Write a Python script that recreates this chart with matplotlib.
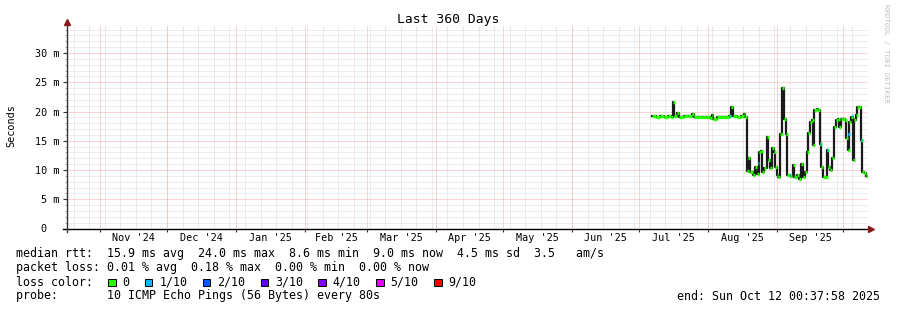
import numpy as np
import matplotlib
matplotlib.use("Agg")
import matplotlib.pyplot as plt
from matplotlib.lines import Line2D
from matplotlib.patches import Rectangle
from matplotlib.collections import LineCollection

W, H = 897, 310
MONO = "DejaVu Sans Mono"

start = np.datetime64("2024-10-17T00:37:58")
end = np.datetime64("2025-10-12T00:37:58")

# median rtt, days since start of graph / milliseconds
days = [262.9, 264.7, 266.5, 268.3, 270.1, 271.5, 272.2, 272.8, 274.2, 275.1,
        277.3, 279.1, 280.8, 281.8, 283.6, 285.4, 287.2, 289.0, 289.8, 290.3,
        292.1, 293.9, 295.7, 297.5, 298.4, 299.3, 301.1, 302.9, 304.3, 304.9,
        305.6, 306.1, 307.0, 308.3, 309.2, 310.0, 311.0, 311.9, 312.5, 313.4,
        314.5, 315.2, 316.0, 317.0, 317.8, 318.2, 319.0, 319.7, 320.3, 320.9,
        321.5, 322.1, 323.0, 323.7, 324.9, 326.2, 326.9, 328.1, 329.0, 329.9,
        330.7, 331.7, 332.4, 333.2, 333.9, 334.7, 335.4, 335.9, 336.9, 337.7,
        338.4, 338.9, 339.9, 341.0, 341.6, 342.2, 342.9, 344.0, 344.7, 345.5,
        346.4, 347.0, 347.9, 348.9, 349.7, 350.2, 350.9, 351.6, 352.4, 353.1,
        353.7, 354.6, 355.2, 356.1, 356.7, 357.2, 358.3, 358.9]
rtt_ms = [19.2, 19.1, 19.2, 19.1, 19.2, 19.1, 21.7, 19.2, 19.8, 19.1,
          19.2, 19.2, 19.6, 19.1, 19.0, 19.1, 19.1, 18.9, 19.4, 18.8,
          19.0, 19.1, 19.1, 19.2, 20.7, 19.2, 19.1, 19.2, 19.5, 19.1,
          9.8, 12.0, 9.6, 9.2, 10.5, 9.4, 13.1, 13.3, 9.6, 10.3,
          15.6, 11.7, 10.3, 13.7, 13.1, 10.5, 9.1, 8.8, 16.1, 16.2,
          24.0, 18.8, 16.1, 9.1, 9.0, 10.8, 8.8, 9.1, 8.5, 11.0,
          8.8, 9.6, 13.1, 16.4, 18.2, 18.5, 14.2, 20.2, 20.5, 20.2,
          14.5, 10.5, 8.8, 8.8, 13.4, 10.5, 10.0, 12.0, 17.4, 18.5,
          18.8, 17.4, 18.8, 18.8, 18.5, 15.4, 13.4, 18.2, 19.1, 11.7,
          18.5, 19.4, 20.8, 20.8, 15.1, 9.6, 9.5, 9.0]

# samples with 1/10 packet loss
loss_days = [298.0, 310.6, 324.5, 338.4, 341.4, 351.1, 352.6, 356.7]
loss_ms = [19.3, 11.2, 9.2, 14.5, 13.4, 16.2, 19.4, 15.1]

month_labels = ["Nov '24", "Dec '24", "Jan '25", "Feb '25", "Mar '25", "Apr '25",
                "May '25", "Jun '25", "Jul '25", "Aug '25", "Sep '25"]
ytick_vals = [0, 5, 10, 15, 20, 25, 30]
ytick_labels = ["0  ", "5 m", "10 m", "15 m", "20 m", "25 m", "30 m"]

loss_names = ["0", "1/10", "2/10", "3/10", "4/10", "5/10", "9/10"]
loss_colors = ["#26ff00", "#00b8ff", "#0059ff", "#5e00ff", "#7e00ff", "#dd00ff", "#ff0000"]

legend_lines = [
    "median rtt:  15.9 ms avg  24.0 ms max  8.6 ms min  9.0 ms now  4.5 ms sd  3.5   am/s",
    "packet loss: 0.01 % avg  0.18 % max  0.00 % min  0.00 % now",
    "loss color:",
    "probe:       10 ICMP Echo Pings (56 Bytes) every 80s",
]


def to_days(t):
    return (t.astype("datetime64[s]") - start) / np.timedelta64(1, "D")


def fx(px):
    return px / W


def fy(py):
    return 1 - py / H


fig = plt.figure(figsize=(W / 100, H / 100), dpi=100, facecolor="white")
x0, x1, y0, y1 = 67, 868, 228.5, 26
ax = fig.add_axes([fx(x0), fy(y0), (x1 - x0) / W, (y0 - y1) / H])
ax.set_xlim(0, 360)
ax.set_ylim(0, (y0 - y1) / 5.85)
for s in ax.spines.values():
    s.set_visible(False)

# grid
grid_c = "#d8d8d8"
mgrid_c = "#f2aaaa"
dot = (0, (1, 1))
gkw = dict(lw=0.72, ls=dot)
for v in np.arange(1, 35):
    if v % 5:
        ax.axhline(v, color=grid_c, zorder=0, **gkw)
for v in ytick_vals[1:]:
    ax.axhline(v, color=mgrid_c, zorder=1, **gkw)

weeks = np.arange(np.datetime64("2024-10-20"), end, np.timedelta64(7, "D"))
for d in to_days(weeks):
    ax.axvline(d, color=grid_c, zorder=0, **gkw)
months = np.arange(np.datetime64("2024-11"), np.datetime64("2025-11"), dtype="datetime64[M]")
mdays = to_days(months)
for d in mdays:
    ax.axvline(d, color=mgrid_c, zorder=1, **gkw)

# median line
ax.step(days, rtt_ms, where="post", color="#1a1a1a", lw=1.6, zorder=3)
segs = []
for i in range(len(days)):
    if i + 1 < len(days) and abs(rtt_ms[i + 1] - rtt_ms[i]) < 1.0:
        e = days[i + 1]
    else:
        e = days[i] + 0.9
    segs.append([(days[i], rtt_ms[i]), (e, rtt_ms[i])])
ax.add_collection(LineCollection(segs, colors=loss_colors[0], lw=2.4, capstyle="butt", zorder=4))
lsegs = [[(d, v), (d + 0.6, v)] for d, v in zip(loss_days, loss_ms)]
ax.add_collection(LineCollection(lsegs, colors=loss_colors[1], lw=2.4, capstyle="butt", zorder=5))

# ticks
ax.set_yticks(ytick_vals, ytick_labels, family=MONO, fontsize=7.3)
ax.set_yticks(np.arange(1, 35), minor=True)
ax.tick_params(axis="y", which="major", length=3, width=0.8, pad=2.5, color="#333333")
ax.tick_params(axis="y", which="minor", length=1.5, width=0.6, color="#999999")
centers = (mdays[:-1] + mdays[1:]) / 2
ax.set_xticks(centers, month_labels, family=MONO, fontsize=7.3)
ax.set_xticks(mdays, minor=True)
ax.tick_params(axis="x", which="major", length=0, pad=3.5)
ax.tick_params(axis="x", which="minor", length=2, width=0.8, color="#333333")

# axes lines with arrows
arrow_c = "#8b1a1a"
fig.add_artist(Line2D([fx(63), fx(869)], [fy(y0), fy(y0)], color="black", lw=1.0))
fig.add_artist(Line2D([fx(x0), fx(x0)], [fy(232), fy(24)], color="#333333", lw=1.0))
fig.add_artist(Line2D([fx(871)], [fy(y0)], marker=">", ms=4, color=arrow_c, mec=arrow_c))
fig.add_artist(Line2D([fx(x0)], [fy(22)], marker="^", ms=4, color=arrow_c, mec=arrow_c))

# texts
fig.text(fx(448), fy(19), "Last 360 Days", family=MONO, fontsize=9.4, ha="center", va="center")
fig.text(fx(11), fy(126), "Seconds", family=MONO, fontsize=7.3, rotation=90, ha="center", va="center")
fig.text(fx(886), fy(4), "RRDTOOL / TOBI OETIKER", family=MONO, fontsize=5.4, rotation=270,
         ha="center", va="top", color="#c0c0c0")

for i, line in enumerate(legend_lines):
    fig.text(fx(16), fy(254 + 14 * i), line, family=MONO, fontsize=8.4, va="center")

bx = 108
for name, col in zip(loss_names, loss_colors):
    fig.add_artist(Rectangle((fx(bx), fy(286)), 7.5 / W, 7.5 / H, facecolor=col,
                             edgecolor="black", lw=0.7))
    fig.text(fx(bx + 14.4), fy(282), name, family=MONO, fontsize=8.4, va="center")
    bx += 14.4 + len(name) * 7.02 + 15.4

fig.text(fx(880), fy(296), "end: Sun Oct 12 00:37:58 2025", family=MONO, fontsize=8.4,
         ha="right", va="center")

fig.savefig("out.png", dpi=100, facecolor="white")
